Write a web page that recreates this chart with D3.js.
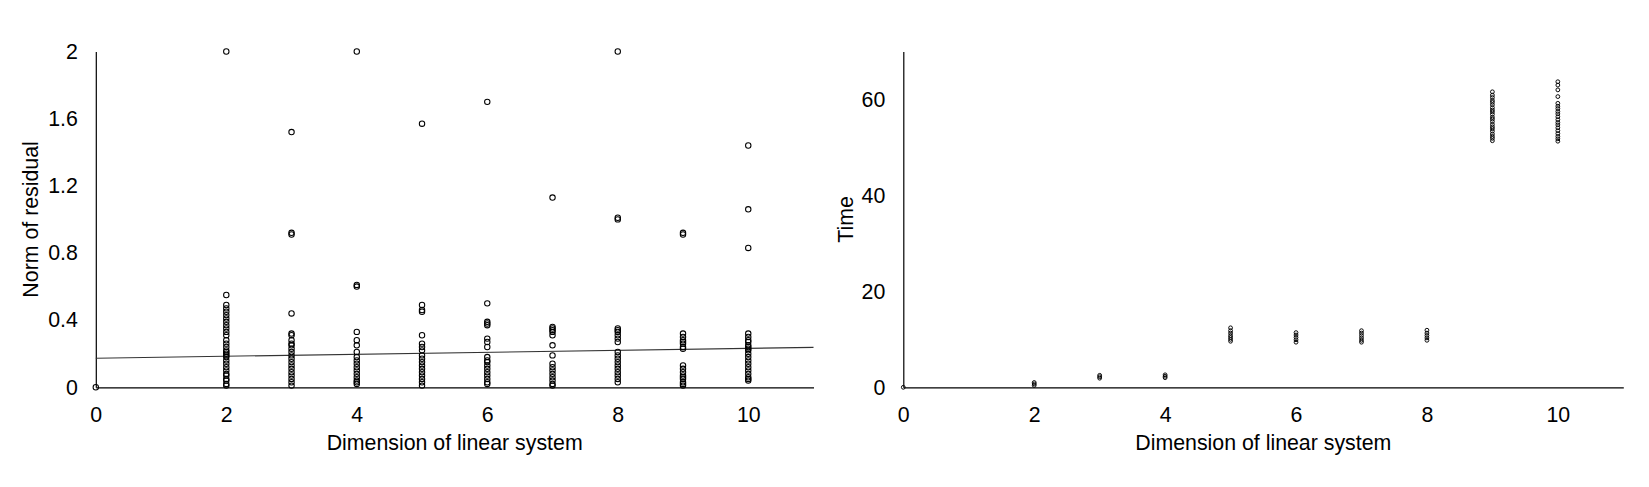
<!DOCTYPE html>
<html>
<head>
<meta charset="utf-8">
<script src="https://cdn.jsdelivr.net/npm/d3@7"></script>
<style>
  html, body { margin: 0; padding: 0; background: #fff; }
  text { font-family: "Liberation Sans", Arial, sans-serif; }
</style>
</head>
<body>
<svg id="chart" width="1649" height="487"></svg>
<script>
// ---------------- DATA ----------------
const xTicks = [0, 2, 4, 6, 8, 10];
const residualTicks = [0, 0.4, 0.8, 1.2, 1.6, 2];
const timeTicks = [0, 20, 40, 60];
const xLabel = "Dimension of linear system";
const residualLabel = "Norm of residual";
const timeLabel = "Time";

// Norm of residual, per dimension
const residual0 = [0];
const residual2 = [2.0, 0.55, 0.49, 0.47, 0.45, 0.43, 0.41, 0.39, 0.37, 0.35, 0.33, 0.31, 0.28, 0.26, 0.24, 0.22, 0.21, 0.20, 0.19, 0.18, 0.16, 0.14, 0.12, 0.10, 0.08, 0.07, 0.05, 0.04, 0.02, 0.01];
const residual3 = [1.52, 0.92, 0.91, 0.44, 0.32, 0.31, 0.28, 0.26, 0.25, 0.23, 0.21, 0.19, 0.17, 0.15, 0.13, 0.11, 0.09, 0.07, 0.05, 0.03, 0.01];
const residual4 = [2.0, 0.61, 0.60, 0.33, 0.28, 0.25, 0.21, 0.18, 0.16, 0.14, 0.12, 0.10, 0.08, 0.06, 0.04, 0.03, 0.02];
const residual5 = [1.57, 0.49, 0.46, 0.45, 0.31, 0.26, 0.24, 0.22, 0.19, 0.17, 0.15, 0.13, 0.11, 0.09, 0.07, 0.05, 0.03, 0.01];
const residual6 = [1.70, 0.50, 0.39, 0.38, 0.37, 0.29, 0.27, 0.24, 0.18, 0.16, 0.15, 0.13, 0.11, 0.09, 0.07, 0.05, 0.03, 0.02];
const residual7 = [1.13, 0.36, 0.35, 0.34, 0.33, 0.31, 0.25, 0.19, 0.14, 0.12, 0.10, 0.08, 0.06, 0.04, 0.02, 0.01];
const residual8 = [2.0, 1.01, 1.00, 0.35, 0.34, 0.33, 0.31, 0.29, 0.27, 0.21, 0.19, 0.17, 0.15, 0.13, 0.11, 0.09, 0.07, 0.05, 0.03];
const residual9 = [0.92, 0.91, 0.32, 0.30, 0.28, 0.27, 0.26, 0.24, 0.23, 0.13, 0.11, 0.09, 0.07, 0.06, 0.05, 0.03, 0.02, 0.01];
const residual10 = [1.44, 1.06, 0.83, 0.32, 0.30, 0.28, 0.27, 0.25, 0.24, 0.23, 0.22, 0.20, 0.18, 0.16, 0.14, 0.12, 0.10, 0.08, 0.06, 0.05, 0.04];

// Linear trend line of residual (end points)
const trendX = [0, 11];
const trendY = [0.173, 0.238];

// Time, per dimension
const time0 = [0];
const time2 = [0.4, 0.7, 1.0];
const time3 = [1.9, 2.2, 2.5];
const time4 = [2.0, 2.3, 2.6];
const time5 = [9.6, 10.0, 10.4, 10.8, 11.3, 11.8, 12.4];
const time6 = [9.4, 9.9, 10.4, 10.9, 11.4];
const time7 = [9.4, 9.8, 10.3, 10.8, 11.3, 11.8];
const time8 = [9.8, 10.3, 10.8, 11.3, 11.9];
const time9 = [51.4, 51.9, 52.3, 52.8, 53.4, 53.9, 54.3, 54.8, 55.4, 55.9, 56.3, 56.9, 57.4, 57.8, 58.3, 58.9, 59.4, 59.8, 60.4, 60.9, 61.6];
const time10 = [63.7, 63.0, 62.0, 60.6, 59.2, 58.6, 58.1, 57.5, 57.0, 56.4, 55.8, 55.2, 54.7, 54.1, 53.5, 52.9, 52.3, 51.8, 51.3];

const dims = [0, 2, 3, 4, 5, 6, 7, 8, 9, 10];
const residualSeries = [residual0, residual2, residual3, residual4, residual5, residual6, residual7, residual8, residual9, residual10];
const timeSeries = [time0, time2, time3, time4, time5, time6, time7, time8, time9, time10];

function flatten(series) {
  const out = [];
  series.forEach((vals, i) => vals.forEach(v => out.push({ x: dims[i], y: v })));
  return out;
}

// ---------------- DRAW ----------------
const svg = d3.select("#chart");
svg.append("rect").attr("width", 1649).attr("height", 487).attr("fill", "#fff");
const FONT = 21.33;

function panel(opts) {
  const x = d3.scaleLinear().domain([0, 11]).range(opts.xr);
  const y = d3.scaleLinear().domain(opts.yd).range(opts.yr);
  const g = svg.append("g");

  const xa = g.append("g")
    .attr("transform", `translate(0,${opts.yr[0]})`)
    .call(d3.axisBottom(x).tickValues(xTicks).tickSize(0).tickPadding(19.5).tickFormat(d3.format("d")));
  const ya = g.append("g")
    .attr("transform", `translate(${opts.xr[0]},0)`)
    .call(d3.axisLeft(y).tickValues(opts.yTicks).tickSize(0).tickPadding(18).tickFormat(opts.yFmt));
  [xa, ya].forEach(a => {
    a.selectAll("text").attr("font-size", FONT).attr("fill", "#000")
      .attr("font-family", '"Liberation Sans", Arial, sans-serif');
    a.select(".domain").attr("stroke", "#000").attr("stroke-width", 1.2);
  });

  if (opts.trend) {
    const line = d3.line().x(d => x(d[0])).y(d => y(d[1]));
    g.append("path")
      .datum(trendX.map((v, i) => [v, trendY[i]]))
      .attr("d", line)
      .attr("fill", "none")
      .attr("stroke", "#333")
      .attr("stroke-width", 1.1);
  }

  g.append("g").selectAll("circle")
    .data(opts.points)
    .join("circle")
    .attr("cx", d => x(d.x))
    .attr("cy", d => y(d.y))
    .attr("r", opts.r)
    .attr("fill", "none")
    .attr("stroke", "#000")
    .attr("stroke-width", opts.sw);

  g.append("text")
    .attr("x", (opts.xr[0] + opts.xr[1]) / 2)
    .attr("y", 450)
    .attr("text-anchor", "middle")
    .attr("font-size", FONT)
    .attr("fill", "#000")
    .text(xLabel);

  g.append("text")
    .attr("transform", `translate(${opts.yLabelX},${(opts.yr[0] + opts.yr[1]) / 2}) rotate(-90)`)
    .attr("text-anchor", "middle")
    .attr("font-size", FONT)
    .attr("fill", "#000")
    .text(opts.yLabel);
}

panel({
  xr: [95.8, 813.5],
  yd: [0, 2],
  yr: [387.3, 51.5],
  yTicks: residualTicks,
  yFmt: d => d === 0 ? "0" : (Number.isInteger(d) ? String(d) : d.toFixed(1)),
  points: flatten(residualSeries),
  r: 2.7,
  sw: 1.05,
  trend: true,
  yLabel: residualLabel,
  yLabelX: 38
});

panel({
  xr: [903.3, 1623.3],
  yd: [0, 70],
  yr: [387.3, 51.5],
  yTicks: timeTicks,
  yFmt: d3.format("d"),
  points: flatten(timeSeries),
  r: 1.9,
  sw: 0.95,
  trend: false,
  yLabel: timeLabel,
  yLabelX: 853
});
</script>
</body>
</html>
